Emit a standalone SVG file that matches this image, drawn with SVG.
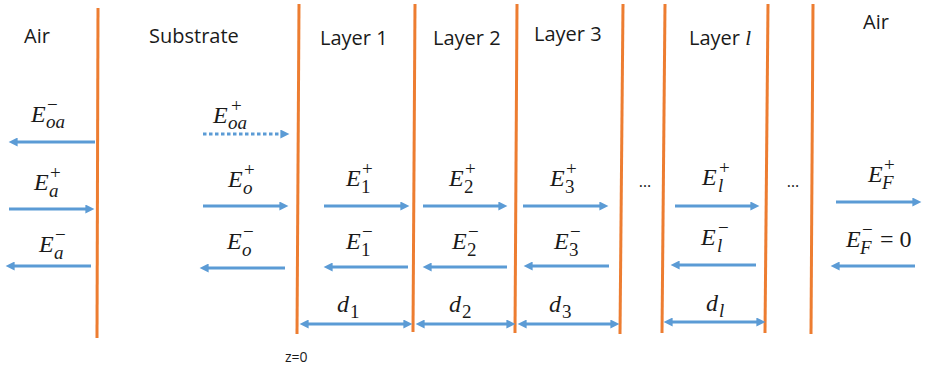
<svg xmlns="http://www.w3.org/2000/svg" width="931" height="368" viewBox="0 0 931 368">
<style>
.b{stroke:#ED7D31;stroke-width:3;fill:none}
.a{stroke:#5B9BD5;stroke-width:3;fill:none;marker-end:url(#ah)}
.d{stroke:#5B9BD5;stroke-width:3;fill:none;marker-end:url(#ah);marker-start:url(#ah)}
.dot{stroke-dasharray:3.5 2.5}
.t{font-family:"Open Sans","Liberation Sans",sans-serif;font-size:20px;fill:#1a1a1a}
.m{font-family:"Liberation Serif","DejaVu Serif",serif;font-style:italic;font-size:24px;fill:#1a1a1a}
.s{font-family:"Liberation Serif","DejaVu Serif",serif;font-style:italic;font-size:19px;fill:#1a1a1a}
.n{font-family:"Liberation Serif","DejaVu Serif",serif;font-style:normal;font-size:19px;fill:#1a1a1a}
.r{font-family:"Liberation Serif","DejaVu Serif",serif;font-size:24px;fill:#1a1a1a}
.z{font-family:"Open Sans","Liberation Sans",sans-serif;font-size:14px;fill:#1a1a1a}
.e{font-family:"Open Sans","Liberation Sans",sans-serif;font-size:16px;fill:#1a1a1a;text-anchor:middle}
</style>
<defs>
<marker id="ah" viewBox="0 0 10 10" markerUnits="userSpaceOnUse" markerWidth="10" markerHeight="9" refX="4" refY="5" orient="auto-start-reverse">
<path d="M0,0 L10,5 L0,10 z" fill="#5B9BD5"/>
</marker>
</defs>
<rect width="931" height="368" fill="#fff"/>
<g id="boundaries">
<line class="b" x1="98" y1="8" x2="97" y2="338"/>
<line class="b" x1="299" y1="4" x2="297" y2="334"/>
<line class="b" x1="415" y1="4" x2="413" y2="332"/>
<line class="b" x1="517" y1="4" x2="515" y2="333"/>
<line class="b" x1="623" y1="4" x2="620" y2="334"/>
<line class="b" x1="665" y1="4" x2="662" y2="333"/>
<line class="b" x1="768" y1="4" x2="765" y2="333"/>
<line class="b" x1="813" y1="4" x2="811" y2="334"/>
</g>
<g id="region-labels">
<text class="t" x="24" y="43">Air</text>
<text class="t" x="149" y="43">Substrate</text>
<text class="t" x="320" y="45">Layer 1</text>
<text class="t" x="433" y="45">Layer 2</text>
<text class="t" x="534" y="41">Layer 3</text>
<text class="t" x="689" y="45">Layer <tspan class="m" style="font-size:21px">l</tspan></text>
<text class="t" x="863" y="29">Air</text>
<text class="z" x="285" y="362">z=0</text>
<text class="e" x="645" y="187">…</text>
<text class="e" x="793" y="187">…</text>
</g>
<g id="connectors">
<line class="a" x1="95" y1="142" x2="14" y2="142"/>
<line class="a" x1="9" y1="209" x2="89" y2="209"/>
<line class="a" x1="91" y1="266" x2="11" y2="266"/>
<line class="a dot" x1="203" y1="134" x2="284" y2="134"/>
<line class="a" x1="203" y1="206" x2="283" y2="206"/>
<line class="a" x1="285" y1="268" x2="205" y2="268"/>
<line class="a" x1="324" y1="206" x2="404" y2="206"/>
<line class="a" x1="423" y1="206" x2="502" y2="206"/>
<line class="a" x1="523" y1="206" x2="603" y2="206"/>
<line class="a" x1="408" y1="267" x2="329" y2="267"/>
<line class="a" x1="507" y1="267" x2="428" y2="267"/>
<line class="a" x1="609" y1="266" x2="529" y2="266"/>
<line class="a" x1="675" y1="206" x2="754" y2="206"/>
<line class="a" x1="756" y1="265" x2="676" y2="265"/>
<line class="a" x1="836" y1="202" x2="916" y2="202"/>
<line class="a" x1="915" y1="266" x2="836" y2="266"/>
<line class="d" x1="305" y1="324" x2="407" y2="324"/>
<line class="d" x1="421" y1="324" x2="510" y2="324"/>
<line class="d" x1="523" y1="324" x2="614" y2="324"/>
<line class="d" x1="669" y1="322" x2="760" y2="322"/>
</g>
<g id="field-labels">
<g id="E_oa_minus"><text class="m" x="31" y="122">E</text><text class="s" x="46" y="128">oa</text><text class="n" x="47" y="111">−</text></g>
<g id="E_a_plus"><text class="m" x="34" y="190">E</text><text class="s" x="49" y="197">a</text><text class="n" x="50" y="179">+</text></g>
<g id="E_a_minus"><text class="m" x="39" y="252">E</text><text class="s" x="54" y="259">a</text><text class="n" x="55" y="241">−</text></g>
<g id="E_oa_plus"><text class="m" x="213" y="123">E</text><text class="s" x="228" y="129">oa</text><text class="n" x="231" y="112">+</text></g>
<g id="E_o_plus"><text class="m" x="228" y="187">E</text><text class="s" x="243" y="194">o</text><text class="n" x="244" y="176">+</text></g>
<g id="E_o_minus"><text class="m" x="227" y="249">E</text><text class="s" x="242" y="256">o</text><text class="n" x="243" y="238">−</text></g>
<g id="E_1_plus"><text class="m" x="346" y="186">E</text><text class="n" x="361" y="193">1</text><text class="n" x="362" y="175">+</text></g>
<g id="E_2_plus"><text class="m" x="449" y="186">E</text><text class="n" x="464" y="193">2</text><text class="n" x="465" y="175">+</text></g>
<g id="E_3_plus"><text class="m" x="550" y="186">E</text><text class="n" x="565" y="193">3</text><text class="n" x="566" y="175">+</text></g>
<g id="E_1_minus"><text class="m" x="346" y="249">E</text><text class="n" x="361" y="256">1</text><text class="n" x="362" y="238">−</text></g>
<g id="E_2_minus"><text class="m" x="452" y="249">E</text><text class="n" x="467" y="256">2</text><text class="n" x="468" y="238">−</text></g>
<g id="E_3_minus"><text class="m" x="554" y="249">E</text><text class="n" x="569" y="256">3</text><text class="n" x="570" y="238">−</text></g>
<g id="E_l_plus"><text class="m" x="702" y="185">E</text><text class="s" x="718" y="192">l</text><text class="n" x="719" y="174">+</text></g>
<g id="E_l_minus"><text class="m" x="701" y="245">E</text><text class="s" x="717" y="252">l</text><text class="n" x="718" y="234">−</text></g>
<g id="E_F_plus"><text class="m" x="868" y="182">E</text><text class="s" x="882" y="189">F</text><text class="n" x="884" y="171">+</text></g>
<g id="E_F_minus"><text class="m" x="846" y="247">E</text><text class="s" x="860" y="254">F</text><text class="n" x="862" y="236">−</text><text class="r" x="880" y="247">= 0</text></g>
</g>
<g id="thickness-labels">
<g id="d1"><text class="m" x="337" y="312">d</text><text class="n" x="350" y="318">1</text></g>
<g id="d2"><text class="m" x="449" y="312">d</text><text class="n" x="462" y="318">2</text></g>
<g id="d3"><text class="m" x="549" y="312">d</text><text class="n" x="562" y="318">3</text></g>
<g id="dl"><text class="m" x="706" y="311">d</text><text class="s" x="719" y="317">l</text></g>
</g>
</svg>
